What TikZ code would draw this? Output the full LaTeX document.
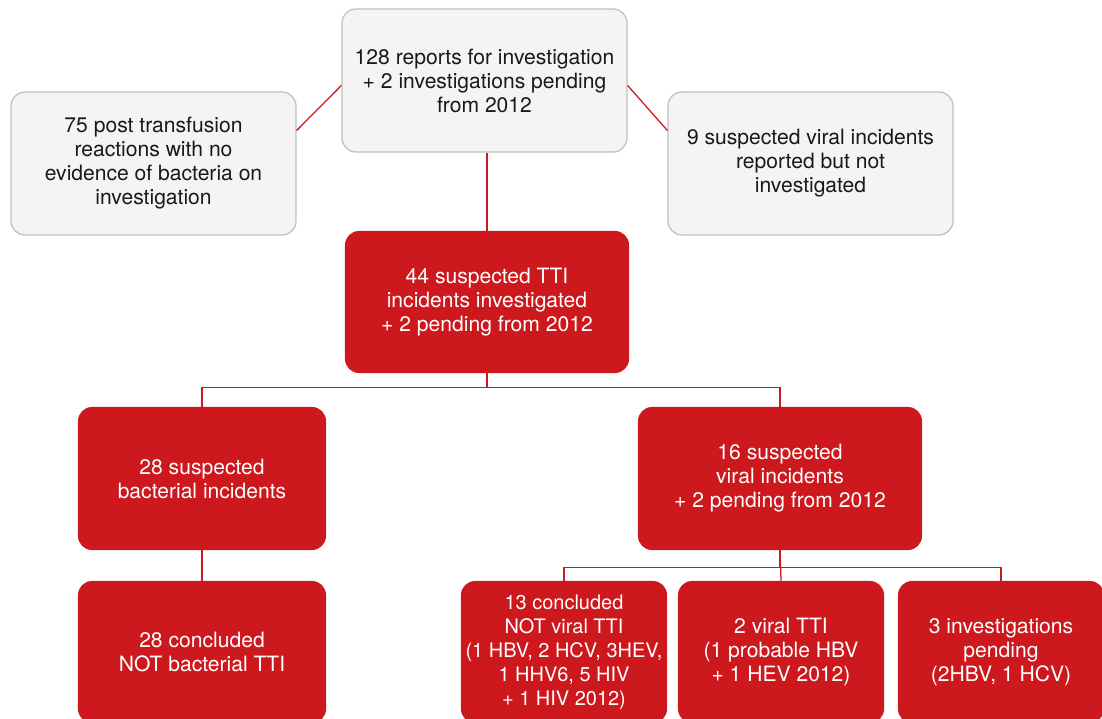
\documentclass[tikz,border=0pt]{standalone}
\usepackage{fontspec}
\setmainfont{TeX Gyre Heros}
\definecolor{ttired}{RGB}{205,24,29}
\definecolor{boxgray}{RGB}{244,244,244}
\definecolor{edgegray}{RGB}{192,192,192}
\tikzset{
  greybox/.style = {
    draw=edgegray, line width=0.9pt, fill=boxgray, text=black!90,
    rounded corners=10pt, align=center,
    font=\fontsize{15}{17.1}\selectfont
  },
  redbox/.style = {
    fill=ttired, text=white, inner xsep=1pt,
    rounded corners=10pt, align=center,
    font=\fontsize{15}{17.1}\selectfont
  },
  link/.style = {draw=ttired, line width=0.9pt}
}

\begin{document}
\begin{tikzpicture}[x=0.025cm,y=-0.025cm]
  \useasboundingbox (0,0) rectangle (1102,718);
  \fill[white] (0,0) rectangle (1102,718);
  \clip (0,0) rectangle (1102,718);
  % reports
  \node[greybox, minimum width=7.125cm, minimum height=3.575cm] (reports) at (484.5,80.5)
    {128 reports for investigation\\+ 2 investigations pending\\from 2012};
  \node[greybox, minimum width=7.125cm, minimum height=3.575cm] (nobact) at (153.5,163.5)
    {75 post transfusion\\reactions with no\\evidence of bacteria on\\investigation};
  \node[greybox, minimum width=7.125cm, minimum height=3.575cm] (notinv) at (810.5,163.5)
    {9 suspected viral incidents\\reported but not\\investigated};
  % investigated
  \node[redbox, minimum width=7.1cm, minimum height=3.55cm] (tti) at (487,302)
    {44 suspected TTI\\incidents investigated\\+ 2 pending from 2012};
  \node[redbox, minimum width=6.2cm, minimum height=3.575cm] (bact) at (202,478.5)
    {28 suspected\\bacterial incidents};
  \node[redbox, minimum width=7.1cm, minimum height=3.575cm] (viral) at (780,478.5)
    {16 suspected\\viral incidents\\+ 2 pending from 2012};
  % outcomes
  \node[redbox, minimum width=6.2cm, minimum height=3.55cm] (bactno) at (202,652)
    {28 concluded\\NOT bacterial TTI};
  \node[redbox, minimum width=5.15cm, minimum height=3.55cm,
        font=\fontsize{14.2}{17.1}\selectfont] (viralno) at (564,652)
    {13 concluded\\NOT viral TTI\\(1 HBV, 2 HCV, 3HEV,\\1 HHV6, 5 HIV\\+ 1 HIV 2012)};
  \node[redbox, minimum width=5.15cm, minimum height=3.55cm] (viralyes) at (781,652)
    {2 viral TTI\\(1 probable HBV\\+ 1 HEV 2012)};
  \node[redbox, minimum width=5.15cm, minimum height=3.55cm] (pending) at (1001,652)
    {3 investigations\\pending\\(2HBV, 1 HCV)};
  % links
  \draw[link] (reports.182) -- (nobact.13);
  \draw[link] (reports.358) -- (notinv.167);
  \draw[link] (tti.north |- reports.south) -- (tti.north);
  \draw[link] (tti.south) -- ++(0,14) -| (bact.north);
  \draw[link] (tti.south) -- ++(0,14) -| (viral.north);
  \draw[link] (bact) -- (bactno);
  \draw[link] (viral.south) -- ++(0,17) -| (viralno.north);
  \draw[link] (viral.south) -- ++(0,17) -| (pending.north);
  \draw[link] (viral.south) -- (viralyes.north);
\end{tikzpicture}
\end{document}
